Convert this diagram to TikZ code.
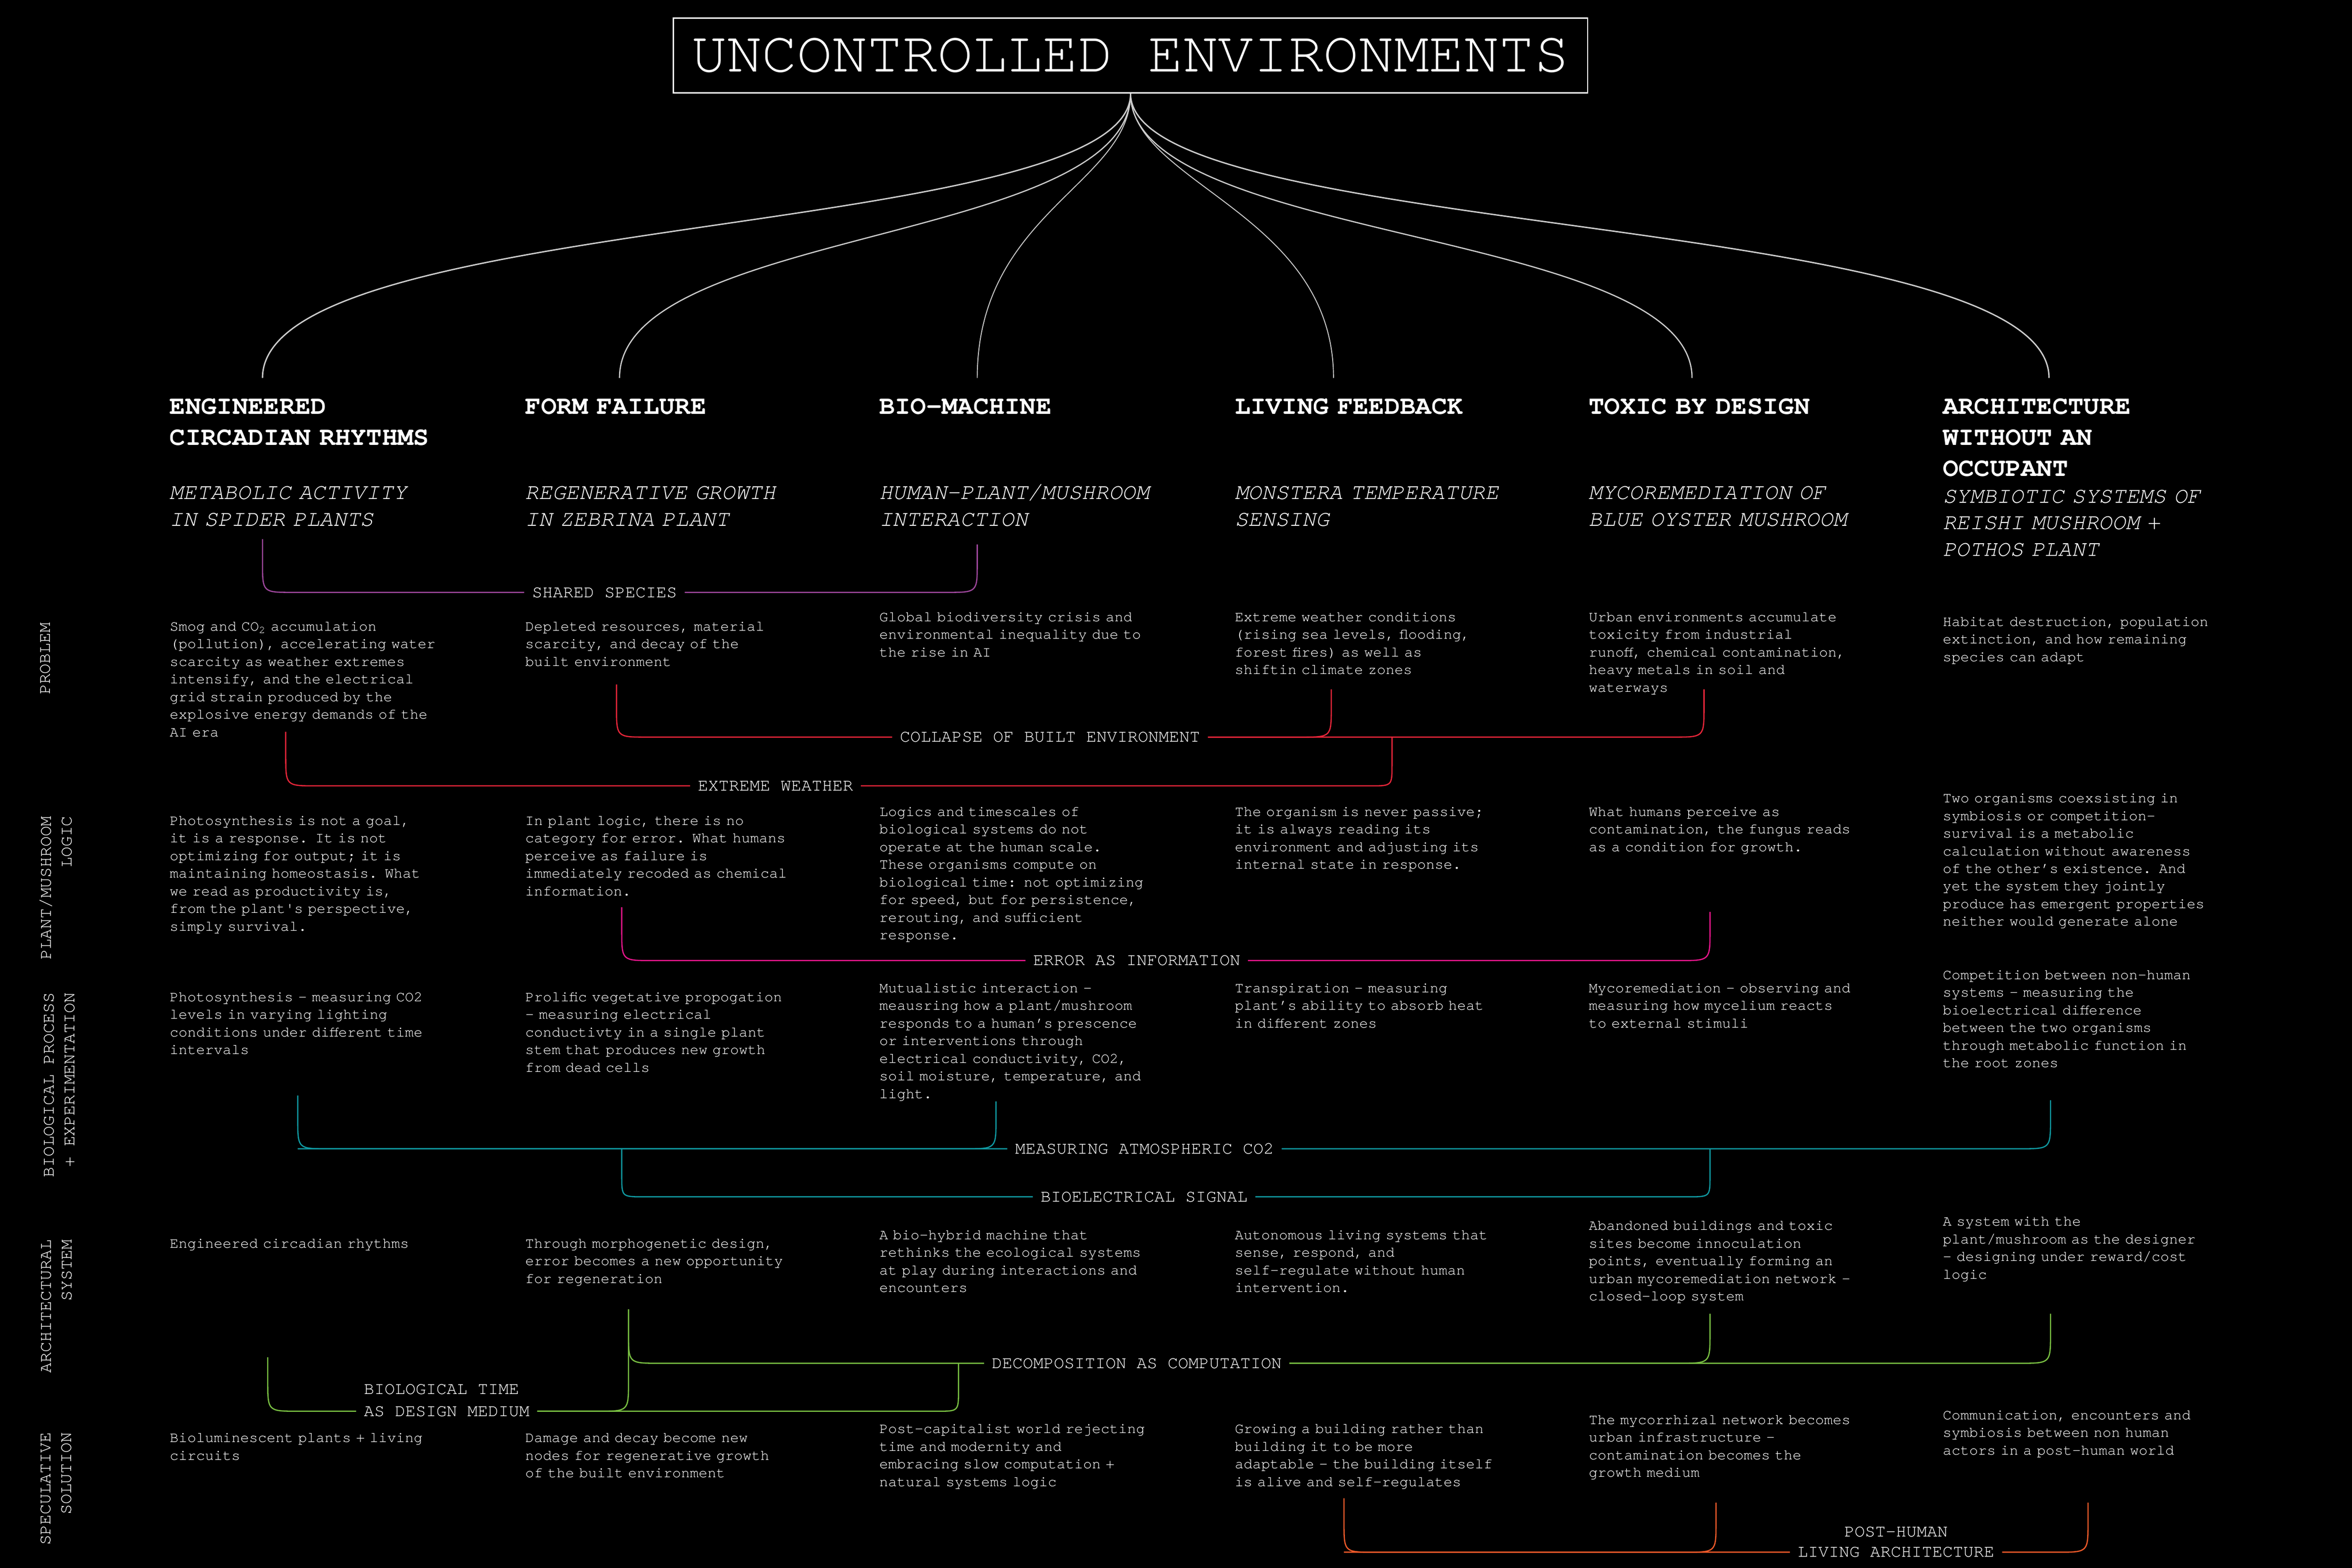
\documentclass[tikz,border=0pt]{standalone}
\usepackage{fontspec}
\setmainfont{TeX Gyre Cursor}
\usepackage{tikz}

\definecolor{stemgray}{RGB}{205,205,205}
\definecolor{spurple}{RGB}{158,71,156}
\definecolor{sred}{RGB}{232,38,58}
\definecolor{spink}{RGB}{232,22,140}
\definecolor{steal}{RGB}{16,154,162}
\definecolor{sgreen}{RGB}{122,193,67}
\definecolor{sorange}{RGB}{240,90,42}

\begin{document}
\begin{tikzpicture}[x=1pt, y=-1pt,
  body/.style={anchor=base west, inner sep=0pt, text=white, text width=235pt, align=left, font=\fontsize{9.8}{11.75}\selectfont},
  head/.style={anchor=base west, inner sep=0pt, text=white, text width=235pt, align=left, font=\bfseries\fontsize{17.4}{20.7}\selectfont},
  sub/.style={anchor=base west, inner sep=0pt, text=white, text width=235pt, align=left, font=\itshape\fontsize{15}{17.7}\selectfont},
  rowlab/.style={anchor=east, rotate=90, inner sep=0pt, text=white, align=right, font=\fontsize{11.4}{13.7}\selectfont},
  lab/.style={inner xsep=5pt, inner ysep=0pt, text height=6.6pt, text depth=0pt, text=white, font=\fontsize{11.5}{13.7}\selectfont},
  stem/.style={draw=stemgray, line width=#1},
  link/.style={line width=0.8pt},
  elbowR/.style={to path={-- ([yshift=#1]\tikztostart |- \tikztotarget) .. controls (\tikztostart |- \tikztotarget) .. ([xshift=#1]\tikztostart |- \tikztotarget) -- (\tikztotarget)}},
  elbowR/.default=20pt,
  elbowL/.style={to path={-- ([yshift=#1]\tikztostart |- \tikztotarget) .. controls (\tikztostart |- \tikztotarget) .. ([xshift=-#1]\tikztostart |- \tikztotarget) -- (\tikztotarget)}},
  elbowL/.default=20pt]
% background
\fill[black] (0,0) rectangle (1568,1045.5);
\useasboundingbox (0,0) rectangle (1568,1045.5);

% title
\node[draw=white, line width=0.8pt, minimum width=609.5pt, minimum height=50pt, inner sep=0pt, text=white, font=\fontsize{39}{45}\selectfont] (title) at (753.7,37) {UNCONTROLLED ENVIRONMENTS};

% stems to the six columns
\coordinate (t1) at (175,252);
\coordinate (t2) at (413,252);
\coordinate (t3) at (651.5,252);
\coordinate (t4) at (889,252);
\coordinate (t5) at (1128,252);
\coordinate (t6) at (1366,252);
\draw[stem=0.9pt] (title.south) .. controls +(0,98) and +(0,-112) .. (t1);
\draw[stem=0.8pt] (title.south) .. controls +(0,100) and +(0,-100) .. (t2);
\draw[stem=0.6pt] (title.south) .. controls +(0,60) and +(0,-110) .. (t3);
\draw[stem=0.6pt] (title.south) .. controls +(0,60) and +(0,-110) .. (t4);
\draw[stem=0.8pt] (title.south) .. controls +(0,100) and +(0,-100) .. (t5);
\draw[stem=0.9pt] (title.south) .. controls +(0,98) and +(0,-112) .. (t6);

% column headings
\node[head] (h1) at (113,276) {ENGINEERED\\CIRCADIAN RHYTHMS};
\node[head] (h2) at (350,276) {FORM FAILURE};
\node[head] (h3) at (586,276) {BIO-MACHINE};
\node[head] (h4) at (823,276) {LIVING FEEDBACK};
\node[head] (h5) at (1059,276) {TOXIC BY DESIGN};
\node[head] (h6) at (1295,276) {ARCHITECTURE\\WITHOUT AN\\OCCUPANT};

% subtitles
\node[sub] (s1) at (113,333) {METABOLIC ACTIVITY\\IN SPIDER PLANTS};
\node[sub] (s2) at (350,333) {REGENERATIVE GROWTH\\IN ZEBRINA PLANT};
\node[sub] (s3) at (586,333) {HUMAN-PLANT/MUSHROOM\\INTERACTION};
\node[sub] (s4) at (823,333) {MONSTERA TEMPERATURE\\SENSING};
\node[sub] (s5) at (1059,333) {MYCOREMEDIATION OF\\BLUE OYSTER MUSHROOM};
\node[sub] (s6) at (1295,335.4) {SYMBIOTIC SYSTEMS OF\\REISHI MUSHROOM +\\POTHOS PLANT};

% row labels
\node[rowlab] (r1) at (30.3,415) {PROBLEM};
\node[rowlab] (r2) at (37.2,544) {PLANT/MUSHROOM\\LOGIC};
\node[rowlab] (r3) at (39.6,661.7) {BIOLOGICAL PROCESS\\+ EXPERIMENTATION};
\node[rowlab] (r4) at (37.8,826.3) {ARCHITECTURAL\\SYSTEM};
\node[rowlab] (r5) at (37.5,955) {SPECULATIVE\\SOLUTION};

% problem
\node[body] (p1) at (113,420.7) {Smog and CO\textsubscript{2} accumulation\\(pollution), accelerating water\\scarcity as weather extremes\\intensify, and the electrical\\grid strain produced by the\\explosive energy demands of the\\AI era};
\node[body] (p2) at (350,420.7) {Depleted resources, material\\scarcity, and decay of the\\built environment};
\node[body] (p3) at (586,414.4) {Global biodiversity crisis and\\environmental inequality due to\\the rise in AI};
\node[body] (p4) at (823,414.4) {Extreme weather conditions\\(rising sea levels, flooding,\\forest fires) as well as\\shiftin climate zones};
\node[body] (p5) at (1059,414.4) {Urban environments accumulate\\toxicity from industrial\\runoff, chemical contamination,\\heavy metals in soil and\\waterways};
\node[body] (p6) at (1295,417.5) {Habitat destruction, population\\extinction, and how remaining\\species can adapt};

% plant/mushroom logic
\node[body] (l1) at (113,550.2) {Photosynthesis is not a goal,\\it is a response. It is not\\optimizing for output; it is\\maintaining homeostasis. What\\we read as productivity is,\\from the plant\textquotesingle s perspective,\\simply survival.};
\node[body] (l2) at (350,550.2) {In plant logic, there is no\\category for error. What humans\\perceive as failure is\\immediately recoded as chemical\\information.};
\node[body] (l3) at (586,544.2) {Logics and timescales of\\biological systems do not\\operate at the human scale.\\These organisms compute on\\biological time: not optimizing\\for speed, but for persistence,\\rerouting, and sufficient\\response.};
\node[body] (l4) at (823,544.2) {The organism is never passive;\\it is always reading its\\environment and adjusting its\\internal state in response.};
\node[body] (l5) at (1059,544.2) {What humans perceive as\\contamination, the fungus reads\\as a condition for growth.};
\node[body] (l6) at (1295,535.2) {Two organisms coexsisting in\\symbiosis or competition-\\survival is a metabolic\\calculation without awareness\\of the other’s existence. And\\yet the system they jointly\\produce has emergent properties\\neither would generate alone};

% biological process + experimentation
\node[body] (e1) at (113,667.8) {Photosynthesis - measuring CO2\\levels in varying lighting\\conditions under different time\\intervals};
\node[body] (e2) at (350,667.8) {Prolific vegetative propogation\\- measuring electrical\\conductivty in a single plant\\stem that produces new growth\\from dead cells};
\node[body] (e3) at (586,661.8) {Mutualistic interaction -\\meausring how a plant/mushroom\\responds to a human’s prescence\\or interventions through\\electrical conductivity, CO2,\\soil moisture, temperature, and\\light.};
\node[body] (e4) at (823,661.8) {Transpiration - measuring\\plant’s ability to absorb heat\\in different zones};
\node[body] (e5) at (1059,661.8) {Mycoremediation - observing and\\measuring how mycelium reacts\\to external stimuli};
\node[body] (e6) at (1295,653) {Competition between non-human\\systems - measuring the\\bioelectrical difference\\between the two organisms\\through metabolic function in\\the root zones};

% architectural system
\node[body] (a1) at (113,832.1) {Engineered circadian rhythms};
\node[body] (a2) at (350,832.1) {Through morphogenetic design,\\error becomes a new opportunity\\for regeneration};
\node[body] (a3) at (586,826.4) {A bio-hybrid machine that\\rethinks the ecological systems\\at play during interactions and\\encounters};
\node[body] (a4) at (823,826.4) {Autonomous living systems that\\sense, respond, and\\self-regulate without human\\intervention.};
\node[body] (a5) at (1059,820.3) {Abandoned buildings and toxic\\sites become innoculation\\points, eventually forming an\\urban mycoremediation network -\\closed-loop system};
\node[body] (a6) at (1295,817.5) {A system with the\\plant/mushroom as the designer\\- designing under reward/cost\\logic};

% speculative solution
\node[body] (x1) at (113,961.7) {Bioluminescent plants + living\\circuits};
\node[body] (x2) at (350,961.7) {Damage and decay become new\\nodes for regenerative growth\\of the built environment};
\node[body] (x3) at (586,955.8) {Post-capitalist world rejecting\\time and modernity and\\embracing slow computation +\\natural systems logic};
\node[body] (x4) at (823,955.8) {Growing a building rather than\\building it to be more\\adaptable - the building itself\\is alive and self-regulates};
\node[body] (x5) at (1059,949.6) {The mycorrhizal network becomes\\urban infrastructure -\\contamination becomes the\\growth medium};
\node[body] (x6) at (1295,946.6) {Communication, encounters and\\symbiosis between non human\\actors in a post-human world};

% link labels
\node[lab] (splab) at (403,395) {SHARED SPECIES};
\node[lab] (cblab) at (700,491.5) {COLLAPSE OF BUILT ENVIRONMENT};
\node[lab] (ewlab) at (517,524) {EXTREME WEATHER};
\node[lab] (eilab) at (757.8,640.5) {ERROR AS INFORMATION};
\node[lab] (mclab) at (763,766) {MEASURING ATMOSPHERIC CO2};
\node[lab] (belab) at (762.7,798) {BIOELECTRICAL SIGNAL};
\node[lab] (dclab) at (757.8,909) {DECOMPOSITION AS COMPUTATION};
\node[lab] (bt2) at (297.8,941) {AS DESIGN MEDIUM};
\node[lab, anchor=west] (bt1) at ([yshift=14.5pt]bt2.west) {BIOLOGICAL TIME};
\node[lab] (ph2) at (1264,1035) {LIVING ARCHITECTURE};
\node[lab] (ph1) at ([yshift=13.6pt]ph2.center) {POST-HUMAN};

% branch ends
\coordinate (sp1) at (175,359.5);
\coordinate (sp3) at (651.5,363);
\coordinate (cb2) at (411,456.4);
\coordinate (cb4) at (887.5,459.6);
\coordinate (cb5) at (1136,459.6);
\coordinate (ew1) at (190.5,488);
\coordinate (ew4) at (928,491.5);
\coordinate (ei2) at (414.5,605);
\coordinate (ei5) at (1140,608);
\coordinate (mc1) at (198.5,730.5);
\coordinate (mc3) at (664,734.4);
\coordinate (mc6) at (1367,733.6);
\coordinate (mc1x) at (mc1 |- mclab.west);
\coordinate (be2) at (414.5,766);
\coordinate (be5) at (1140,766);
\coordinate (dc2) at (419,873);
\coordinate (dc5) at (1140,876);
\coordinate (dc6) at (1367,876);
\coordinate (bt1c) at (178.5,905);
\coordinate (bt3) at (639,909);
\coordinate (ph4) at (896,999);
\coordinate (ph5) at (1144,1002);
\coordinate (ph6) at (1392,1002);
\coordinate (ph4x) at (ph4 |- ph2.west);

% shared species
\draw[link, spurple] (sp1) to[elbowR] (splab.west);
\draw[link, spurple] (sp3) to[elbowL] (splab.east);
% collapse + extreme weather
\draw[link, sred] (cb2) to[elbowR] (cblab.west);
\draw[link, sred] (cb4) to[elbowL] (cblab.east);
\draw[link, sred] (cb5) to[elbowL] (cblab.east);
\draw[link, sred] (ew1) to[elbowR] (ewlab.west);
\draw[link, sred] (ew4) to[elbowL=14pt] (ewlab.east);
% error as information
\draw[link, spink] (ei2) to[elbowR] (eilab.west);
\draw[link, spink] (ei5) to[elbowL] (eilab.east);
% co2 + bioelectrical
\draw[link, steal] (mc1) to[elbowR] (mclab.west);
\draw[link, steal] (mc3) to[elbowL] (mc1x);
\draw[link, steal] (mc6) to[elbowL] (mclab.east);
\draw[link, steal] (be2) to[elbowR=14pt] (belab.west);
\draw[link, steal] (be5) to[elbowL=14pt] (belab.east);
% decomposition + biological time
\draw[link, sgreen] (dc2) to[elbowR] (dclab.west);
\draw[link, sgreen] (dc5) to[elbowL] (dclab.east);
\draw[link, sgreen] (dc6) to[elbowL] (dclab.east);
\draw[link, sgreen] (bt1c) to[elbowR] (bt2.west);
\draw[link, sgreen] (dc2) to[elbowL] (bt2.east);
\draw[link, sgreen] (bt3) to[elbowL=14pt] (bt2.east);
% post-human
\draw[link, sorange] (ph4) to[elbowR] (ph2.west);
\draw[link, sorange] (ph5) to[elbowL] (ph4x);
\draw[link, sorange] (ph6) to[elbowL] (ph2.east);
\end{tikzpicture}
\end{document}
